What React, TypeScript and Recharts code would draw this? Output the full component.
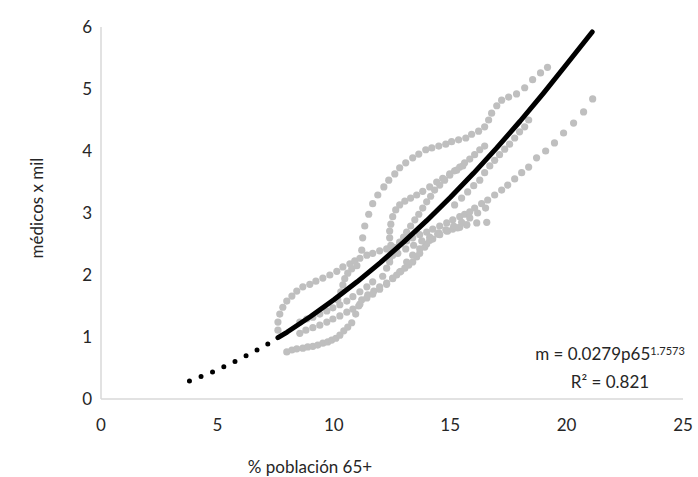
import React from 'react';
import { ScatterChart, Scatter, XAxis, YAxis } from 'recharts';

// trayectorias (x = % población 65+, y = médicos x mil)
const curvaA_x = [11.2, 11.24, 11.33, 11.5, 11.67, 11.89, 12.15, 12.36, 12.62, 12.83, 13.09, 13.39, 13.65, 13.95, 14.21, 14.51, 14.81, 15.06, 15.36, 15.67, 15.92, 16.22, 16.48, 16.65, 16.78, 17.0, 17.21, 17.51, 17.85, 18.2, 18.54, 18.88, 19.18];
const curvaA_y = [2.4, 2.6, 2.79, 2.98, 3.15, 3.29, 3.42, 3.53, 3.63, 3.73, 3.81, 3.89, 3.95, 4.02, 4.05, 4.08, 4.11, 4.15, 4.18, 4.21, 4.27, 4.32, 4.39, 4.5, 4.61, 4.73, 4.82, 4.87, 4.92, 5.02, 5.15, 5.26, 5.35];

const curvaB_x = [7.6, 7.6, 7.68, 7.81, 7.98, 8.2, 8.41, 8.67, 8.97, 9.23, 9.53, 9.83, 10.13, 10.39, 10.69, 10.9, 11.12, 11.42, 11.67, 11.97, 12.27, 12.53, 12.83, 13.13, 13.39, 13.69, 13.99, 14.25, 14.55, 14.85, 15.11, 15.41, 15.62, 15.84, 16.05, 16.35, 16.61, 16.91, 17.21, 17.47, 17.77, 18.07, 18.37, 18.71, 19.1, 19.48, 19.87, 20.3, 20.73, 21.12];
const curvaB_y = [1.11, 1.24, 1.37, 1.48, 1.58, 1.66, 1.74, 1.81, 1.85, 1.9, 1.95, 2.0, 2.06, 2.13, 2.18, 2.23, 2.27, 2.32, 2.35, 2.39, 2.42, 2.45, 2.5, 2.55, 2.6, 2.65, 2.69, 2.74, 2.79, 2.84, 2.89, 2.94, 2.98, 3.02, 3.08, 3.15, 3.21, 3.29, 3.37, 3.45, 3.55, 3.65, 3.74, 3.89, 4.0, 4.13, 4.29, 4.45, 4.63, 4.84];

const curvaC_x = [7.98, 8.2, 8.41, 8.67, 8.88, 9.1, 9.31, 9.53, 9.74, 9.91, 10.09, 10.26, 10.43, 10.6, 10.77, 10.94, 11.07, 11.2, 11.46, 11.72, 11.97, 12.27, 12.53, 12.7, 12.88, 13.05, 13.22, 13.39, 13.56, 13.69, 13.91, 14.12, 14.51, 14.89, 15.32, 15.71, 16.14, 16.57];
const curvaC_y = [0.76, 0.79, 0.81, 0.82, 0.84, 0.85, 0.87, 0.9, 0.92, 0.95, 0.98, 1.03, 1.1, 1.16, 1.23, 1.37, 1.5, 1.6, 1.68, 1.74, 1.81, 1.87, 1.94, 2.0, 2.06, 2.11, 2.16, 2.21, 2.29, 2.35, 2.45, 2.56, 2.68, 2.71, 2.76, 2.81, 2.84, 2.85];

const curvaD_x = [8.54, 8.8, 9.1, 9.4, 9.7, 9.96, 10.26, 10.56, 10.82, 11.12, 11.42, 11.67, 11.97, 12.27, 12.53, 12.83, 13.13, 13.39, 13.69, 13.99, 14.25, 14.55, 14.85, 15.11, 15.41, 15.71];
const curvaD_y = [1.06, 1.11, 1.15, 1.19, 1.24, 1.29, 1.34, 1.4, 1.45, 1.53, 1.63, 1.69, 1.77, 1.85, 1.95, 2.05, 2.21, 2.32, 2.42, 2.5, 2.58, 2.65, 2.71, 2.74, 2.77, 2.81];

const curvaE_x = [12.1, 12.27, 12.4, 12.53, 12.7, 12.83, 13.0, 13.13, 13.3, 13.48, 13.65, 13.82, 13.99, 14.16, 14.33, 14.55, 14.76, 14.98, 15.19, 15.41, 15.62, 15.84, 16.05, 16.27, 16.48];
const curvaE_y = [1.98, 2.11, 2.21, 2.32, 2.44, 2.53, 2.61, 2.69, 2.79, 2.89, 2.98, 3.08, 3.18, 3.27, 3.37, 3.45, 3.53, 3.61, 3.68, 3.74, 3.81, 3.87, 3.94, 4.02, 4.08];

const curvaF_x = [12.53, 12.45, 12.4, 12.4, 12.45, 12.53, 12.66, 12.83, 13.05, 13.3, 13.56, 13.82, 14.12, 14.42, 14.68, 14.98, 15.28, 15.54];
const curvaF_y = [2.37, 2.48, 2.6, 2.71, 2.82, 2.94, 3.05, 3.13, 3.19, 3.24, 3.29, 3.35, 3.42, 3.5, 3.56, 3.63, 3.69, 3.76];

const curvaG_x = [15.19, 15.49, 15.75, 16.01, 16.27, 16.48, 16.7, 16.91, 17.12, 17.34, 17.55, 17.77, 17.98, 18.2, 18.37];
const curvaG_y = [3.13, 3.24, 3.34, 3.44, 3.53, 3.65, 3.76, 3.85, 3.94, 4.03, 4.11, 4.21, 4.31, 4.39, 4.5];

const curvaH_x = [10.17, 10.3, 10.39, 10.47, 10.6, 10.77, 10.99];
const curvaH_y = [1.6, 1.73, 1.84, 1.94, 2.03, 2.1, 2.15];

const curvaI_x = [8.54, 8.84, 9.1, 9.4, 9.7, 9.96, 10.26, 10.56, 10.82, 11.12, 11.42, 11.67];
const curvaI_y = [1.24, 1.29, 1.32, 1.37, 1.42, 1.47, 1.52, 1.58, 1.65, 1.73, 1.81, 1.89];

const curvaJ_x = [12.4, 12.75, 13.09, 13.43, 13.78, 14.12, 14.46, 14.81, 15.15, 15.49, 15.84, 16.18, 16.52];
const curvaJ_y = [2.27, 2.35, 2.42, 2.48, 2.55, 2.61, 2.66, 2.73, 2.79, 2.85, 2.92, 3.0, 3.08];

// tendencia m = 0.0279 p65^1.7573
const tendX = [7.6, 8, 9, 10, 11, 12, 13, 14, 15, 16, 17, 18, 19, 20, 21.1];
const tendY = [0.99, 1.08, 1.33, 1.6, 1.89, 2.2, 2.53, 2.88, 3.25, 3.64, 4.05, 4.48, 4.93, 5.4, 5.92];
const prevX = [3.8, 4.5, 5, 5.5, 6, 6.5, 7, 7.6];
const prevY = [0.29, 0.39, 0.47, 0.56, 0.65, 0.75, 0.85, 0.99];

const xTicks = [0, 5, 10, 15, 20, 25];
const yTicks = [0, 1, 2, 3, 4, 5, 6];

const series = [
  [curvaA_x, curvaA_y],
  [curvaB_x, curvaB_y],
  [curvaC_x, curvaC_y],
  [curvaD_x, curvaD_y],
  [curvaE_x, curvaE_y],
  [curvaF_x, curvaF_y],
  [curvaG_x, curvaG_y],
  [curvaH_x, curvaH_y],
  [curvaI_x, curvaI_y],
  [curvaJ_x, curvaJ_y],
];

const toPoints = (xs: number[], ys: number[]) => xs.map((x, i) => ({ x, y: ys[i] }));

const font = 'Lato, "Open Sans", sans-serif';
const textColor = '#262626';

const GrayDot = (props: any) => <circle cx={props.cx} cy={props.cy} r={3.6} fill="#bfbfbf" />;
const NoDot = () => <g />;

export default function App() {
  return (
    <div style={{ position: 'absolute', left: 0, top: 0, width: 698, height: 477, background: '#fff', fontFamily: font }}>
      <ScatterChart width={698} height={477} margin={{ top: 27, right: 15, bottom: 48, left: 41 }}>
        <XAxis
          type="number"
          dataKey="x"
          domain={[0, 25]}
          ticks={xTicks}
          tickLine={false}
          tickMargin={14}
          axisLine={{ stroke: '#d9d9d9', strokeWidth: 1.5 }}
          tick={{ fill: textColor, fontSize: 17, fontFamily: font }}
        />
        <YAxis
          type="number"
          dataKey="y"
          domain={[0, 6]}
          ticks={yTicks}
          tickLine={false}
          tickMargin={3}
          axisLine={{ stroke: '#d9d9d9', strokeWidth: 1.5 }}
          tick={{ fill: textColor, fontSize: 17, fontFamily: font }}
        />
        {series.map(([xs, ys], i) => (
          <Scatter key={i} data={toPoints(xs, ys)} shape={GrayDot} isAnimationActive={false} />
        ))}
        <Scatter
          data={toPoints(prevX, prevY)}
          shape={NoDot}
          line={{ stroke: '#000', strokeWidth: 5, strokeDasharray: '0 12.4', strokeLinecap: 'round' }}
          isAnimationActive={false}
        />
        <Scatter
          data={toPoints(tendX, tendY)}
          shape={NoDot}
          line={{ stroke: '#000', strokeWidth: 5, strokeLinecap: 'round', strokeLinejoin: 'round' }}
          isAnimationActive={false}
        />
      </ScatterChart>
      <div
        style={{
          position: 'absolute', left: 36, top: 208, transform: 'translate(-50%, -50%) rotate(-90deg)',
          fontSize: 17, color: textColor, whiteSpace: 'nowrap',
        }}
      >
        médicos x mil
      </div>
      <div
        style={{
          position: 'absolute', left: 310, top: 466, transform: 'translate(-50%, -50%)',
          fontSize: 17, color: textColor, whiteSpace: 'nowrap',
        }}
      >
        % población 65+
      </div>
      <div
        style={{
          position: 'absolute', left: 610, top: 368, transform: 'translate(-50%, -50%)',
          fontSize: 17, color: textColor, whiteSpace: 'nowrap', textAlign: 'center', lineHeight: '28px',
        }}
      >
        <div>m = 0.0279p65<sup style={{ fontSize: 11, verticalAlign: 'top', position: 'relative', top: -3 }}>1.7573</sup></div>
        <div>R² = 0.821</div>
      </div>
    </div>
  );
}
